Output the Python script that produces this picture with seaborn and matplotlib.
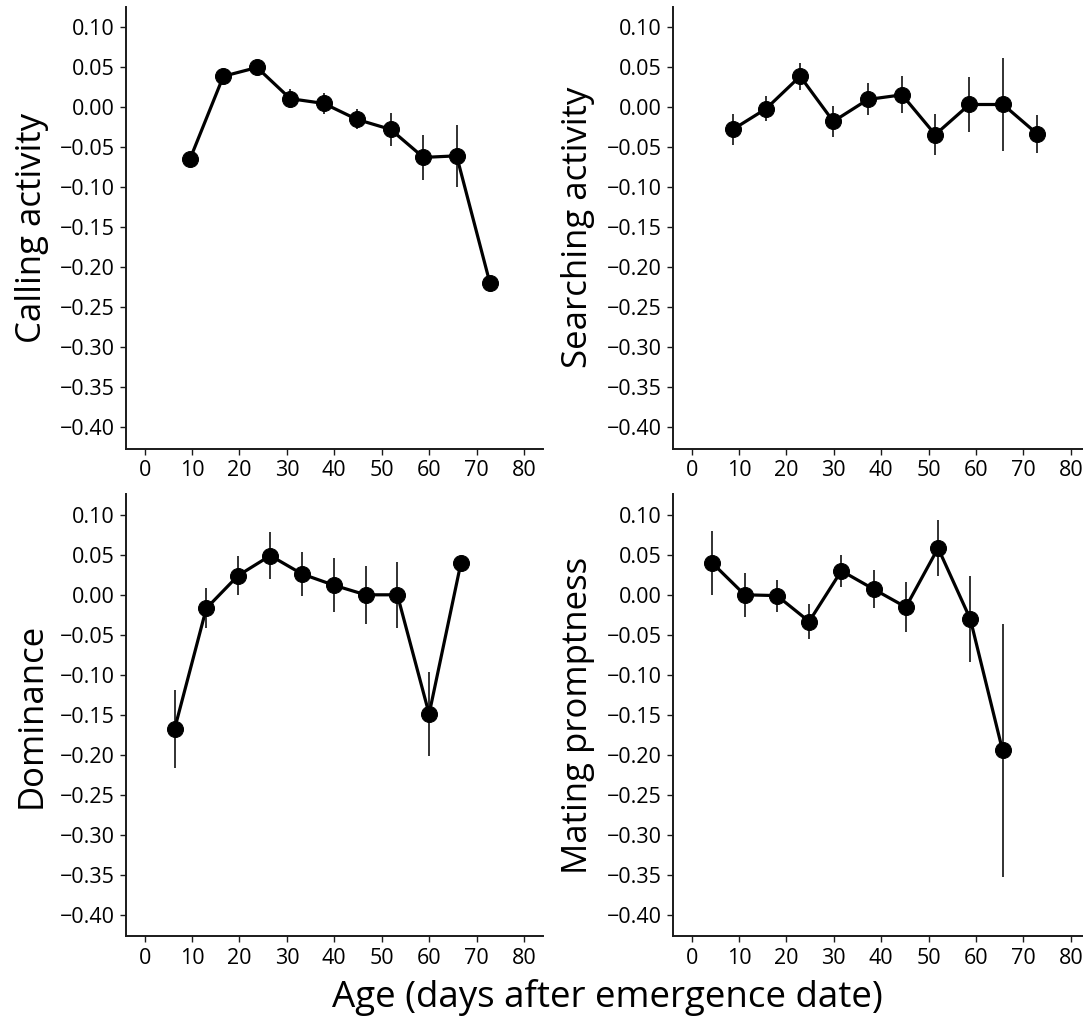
"""
Four-panel plot: behaviour scores vs age (days after emergence date).
Mean ± SE per age class, drawn with seaborn lineplot + matplotlib errorbars.
"""

import matplotlib

matplotlib.use("Agg")
import matplotlib.pyplot as plt
import pandas as pd
import seaborn as sns
from matplotlib.ticker import FuncFormatter, MultipleLocator

# --- data ---------------------------------------------------------------------
age_calling = [9.6, 16.6, 23.7, 30.7, 37.8, 44.8, 51.9, 58.8, 65.8, 72.8]
calling = [-0.064, 0.039, 0.050, 0.011, 0.005, -0.015, -0.0275, -0.0625, -0.0605, -0.219]
calling_se = [0.004, 0.004, 0.004, 0.012, 0.013, 0.0125, 0.021, 0.0285, 0.0385, 0.004]

age_search = [8.7, 15.7, 22.9, 29.9, 37.2, 44.4, 51.4, 58.6, 65.7, 72.9]
search = [-0.0275, -0.0017, 0.039, -0.0175, 0.010, 0.0158, -0.034, 0.0037, 0.0037, -0.033]
search_se = [0.0198, 0.0156, 0.017, 0.0196, 0.020, 0.023, 0.026, 0.034, 0.058, 0.024]

age_dom = [6.3, 13.0, 19.7, 26.5, 33.2, 39.9, 46.6, 53.3, 60.0, 66.7]
dom = [-0.168, -0.017, 0.024, 0.049, 0.026, 0.012, 0.0, 0.0, -0.149, 0.0396]
dom_se = [0.049, 0.025, 0.024, 0.029, 0.028, 0.034, 0.036, 0.041, 0.053, 0.004]

age_mating = [4.4, 11.2, 18.0, 24.8, 31.6, 38.4, 45.2, 52.0, 58.8, 65.6]
mating = [0.0396, 0.0, -0.001, -0.0334, 0.030, 0.0071, -0.0154, 0.0584, -0.0304, -0.1946]
mating_se = [0.040, 0.0275, 0.020, 0.022, 0.020, 0.024, 0.031, 0.035, 0.054, 0.158]

panels = [
    ("Calling activity", age_calling, calling, calling_se),
    ("Searching activity", age_search, search, search_se),
    ("Dominance", age_dom, dom, dom_se),
    ("Mating promptness", age_mating, mating, mating_se),
]

X_LABEL = "Age (days after emergence date)"

# --- style ---------------------------------------------------------------------
sns.set_style("ticks")
plt.rcParams["font.family"] = ["Open Sans", "DejaVu Sans"]
plt.rcParams["text.color"] = "black"
plt.rcParams["axes.labelcolor"] = "black"
plt.rcParams["axes.edgecolor"] = "#1a1a1a"
plt.rcParams["axes.linewidth"] = 1.4
plt.rcParams["xtick.major.size"] = 4
plt.rcParams["ytick.major.size"] = 4
plt.rcParams["xtick.major.width"] = 1.0
plt.rcParams["ytick.major.width"] = 1.0
plt.rcParams["xtick.major.pad"] = 4
plt.rcParams["ytick.major.pad"] = 4

W, H = 1083, 1022
fig = plt.figure(figsize=(W / 100, H / 100), dpi=100)

# axes boxes in pixels: (left, top, right, bottom)
boxes = [
    (125.7, 6.7, 542.9, 448.9),
    (672.6, 6.7, 1089.8, 448.9),
    (125.7, 494.0, 542.9, 936.4),
    (672.6, 494.0, 1089.8, 936.4),
]


def fmt(v, _pos):
    s = f"{v:.2f}"
    if s == "-0.00":
        s = "0.00"
    return s.replace("-", "\u2212")


for (label, ages, vals, ses), (l, t, r, b) in zip(panels, boxes):
    ax = fig.add_axes([l / W, 1 - b / H, (r - l) / W, (b - t) / H])
    df = pd.DataFrame({"age": ages, "score": vals, "se": ses})

    ax.errorbar(df["age"], df["score"], yerr=df["se"], fmt="none",
                ecolor="#222222", elinewidth=1.3, capsize=0, zorder=2)
    sns.lineplot(data=df, x="age", y="score", ax=ax, color="black",
                 linewidth=2.3, marker="o", markersize=11.5,
                 markeredgecolor="black", zorder=3)

    ax.set_xlim(-4, 84)
    ax.set_ylim(-0.427, 0.126)
    ax.xaxis.set_major_locator(MultipleLocator(10))
    ax.yaxis.set_major_locator(MultipleLocator(0.05))
    ax.yaxis.set_major_formatter(FuncFormatter(fmt))
    ax.tick_params(labelsize=15.5, colors="#1a1a1a", labelcolor="black")
    ax.set_xlabel("")
    ax.set_ylabel(label, fontsize=25)
    ax.yaxis.set_label_coords(-0.185, 0.5)
    sns.despine(ax=ax)

fig.text(607 / W, 1 - 997 / H, X_LABEL, fontsize=26.5, ha="center", va="center")

fig.savefig("out.png", dpi=100)
